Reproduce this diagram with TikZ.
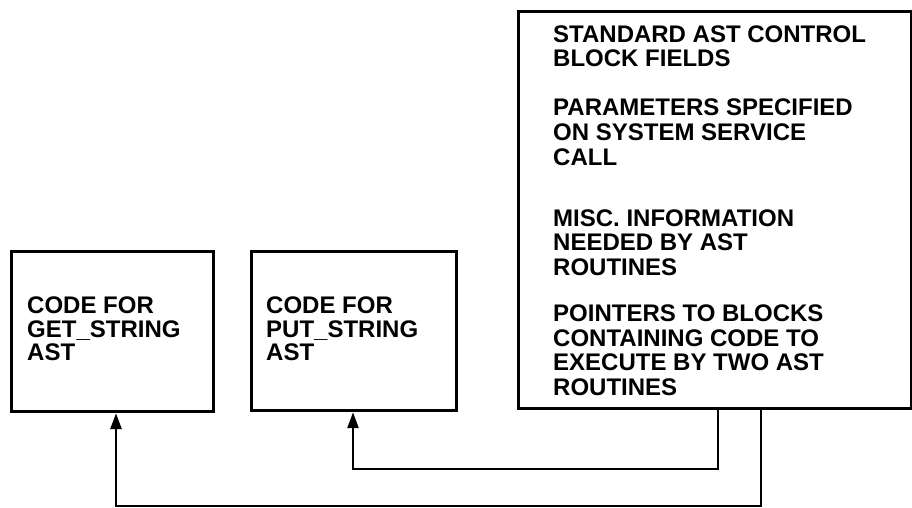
\documentclass[tikz,border=0pt]{standalone}
\usepackage{fontspec}
\setmainfont{Liberation Sans}
\usetikzlibrary{arrows.meta}
\begin{document}
\begin{tikzpicture}[x=1pt,y=-1pt,
  box/.style={draw=black,line width=3.2pt,rectangle,inner sep=0pt,anchor=north west},
  txt/.style={anchor=base west,inner sep=0pt,font=\fontsize{24pt}{24.5pt}\selectfont\bfseries},
  conn/.style={draw=black,line width=2.6pt},
  arr/.style={conn,-{Triangle[length=16pt,width=11pt]}}]
\useasboundingbox (0,0) rectangle (912,508);
% boxes
\node[box,minimum width=202pt,minimum height=160pt] (b1) at (10,250) {};
\node[box,minimum width=205pt,minimum height=159pt] (b2) at (250,250) {};
\node[box,minimum width=393pt,minimum height=397pt] (big) at (517,10) {};
% box 1 text
\node[txt] (g1) at (27,313) {CODE FOR};
\node[txt] (g2) at (27,337) {GET\_STRING};
\node[txt] (g3) at (27,360) {AST};
% box 2 text
\node[txt] (p1) at (266,313) {CODE FOR};
\node[txt] (p2) at (266,337) {PUT\_STRING};
\node[txt] (p3) at (266,360) {AST};
% big box text
\node[txt] (s1) at (553,43) {STANDARD AST CONTROL};
\node[txt] (s2) at (553,67) {BLOCK FIELDS};
\node[txt] (s3) at (553,116) {PARAMETERS SPECIFIED};
\node[txt] (s4) at (553,140) {ON SYSTEM SERVICE};
\node[txt] (s5) at (553,165) {CALL};
\node[txt] (s6) at (553,226) {MISC. INFORMATION};
\node[txt] (s7) at (553,250) {NEEDED BY AST};
\node[txt] (s8) at (553,275) {ROUTINES};
\node[txt] (s9) at (553,321) {POINTERS TO BLOCKS};
\node[txt] (s10) at (553,346) {CONTAINING CODE TO};
\node[txt] (s11) at (553,370) {EXECUTE BY TWO AST};
\node[txt] (s12) at (553,395) {ROUTINES};
% connectors
\coordinate (c1) at (718,469);
\coordinate (c2) at (761,506);
\coordinate (a1) at (353,0);
\coordinate (a2) at (116,0);
\draw[arr] (c1 |- big.south) -- (c1) -| (a1 |- b2.south);
\draw[arr] (c2 |- big.south) -- (c2) -| (a2 |- b1.south);
\end{tikzpicture}
\end{document}
